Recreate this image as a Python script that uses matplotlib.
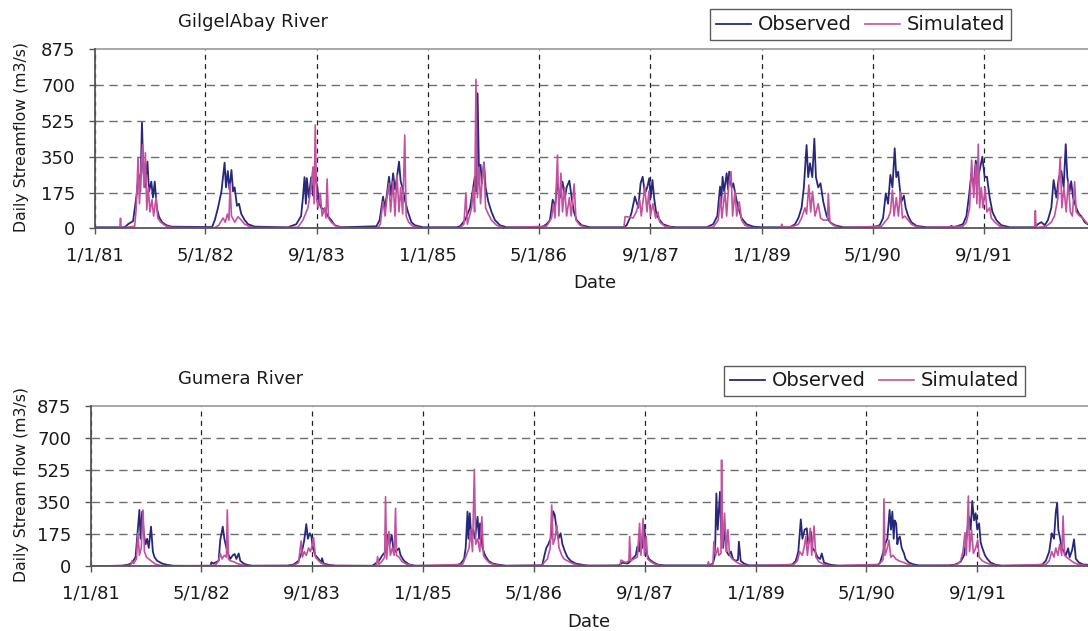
import matplotlib
matplotlib.use('Agg')
import matplotlib.pyplot as plt
import pandas as pd

plt.rcParams['font.family'] = 'DejaVu Sans'

# tick positions / labels shared by both panels
tick_dates = ['1981-01-01', '1982-05-01', '1983-09-01', '1985-01-01', '1986-05-01',
              '1987-09-01', '1989-01-01', '1990-05-01', '1991-09-01']
tick_labels = ['1/1/81', '5/1/82', '9/1/83', '1/1/85', '5/1/86',
               '9/1/87', '1/1/89', '5/1/90', '9/1/91']
y_ticks = [0, 175, 350, 525, 700, 875]

# GilgelAbay river, daily streamflow (m3/s)
gilgel_obs = [
    ('1981-01-01', 5), ('1981-05-12', 5), ('1981-05-27', 20), ('1981-06-18', 35), ('1981-07-02', 150),
    ('1981-07-13', 260), ('1981-07-20', 180), ('1981-07-27', 516), ('1981-08-02', 280), ('1981-08-09', 200),
    ('1981-08-20', 326), ('1981-08-27', 180), ('1981-09-06', 228), ('1981-09-13', 150), ('1981-09-21', 228),
    ('1981-09-30', 100), ('1981-10-10', 55), ('1981-10-23', 30), ('1981-11-11', 15), ('1981-12-03', 8),
    ('1982-05-30', 6), ('1982-06-11', 40), ('1982-06-25', 100), ('1982-07-10', 180), ('1982-07-17', 250),
    ('1982-07-24', 321), ('1982-07-30', 200), ('1982-08-07', 280), ('1982-08-14', 190), ('1982-08-23', 285),
    ('1982-08-30', 180), ('1982-09-06', 200), ('1982-09-16', 110), ('1982-09-25', 120), ('1982-10-05', 70),
    ('1982-10-20', 40), ('1982-11-04', 20), ('1982-12-03', 8),
    ('1983-04-27', 5), ('1983-06-03', 20), ('1983-06-24', 60), ('1983-07-02', 150), ('1983-07-09', 250),
    ('1983-07-15', 120), ('1983-07-19', 245), ('1983-07-28', 150), ('1983-08-07', 250), ('1983-08-15', 160),
    ('1983-08-23', 260), ('1983-09-03', 200), ('1983-09-10', 130), ('1983-09-20', 100), ('1983-10-05', 90),
    ('1983-10-19', 60), ('1983-11-03', 40), ('1983-11-18', 15), ('1983-12-17', 5),
    ('1984-05-19', 10), ('1984-06-02', 40), ('1984-06-17', 155), ('1984-06-24', 100), ('1984-07-02', 150),
    ('1984-07-13', 252), ('1984-07-22', 160), ('1984-07-31', 269), ('1984-08-08', 190), ('1984-08-17', 250),
    ('1984-08-26', 326), ('1984-09-02', 230), ('1984-09-10', 200), ('1984-09-20', 140), ('1984-10-04', 80),
    ('1984-10-19', 30), ('1984-11-03', 15), ('1984-12-09', 5),
    ('1985-05-05', 5), ('1985-05-20', 10), ('1985-06-11', 40), ('1985-07-03', 100), ('1985-07-17', 200),
    ('1985-07-24', 252), ('1985-07-30', 180), ('1985-08-05', 660), ('1985-08-11', 280), ('1985-08-18', 310),
    ('1985-08-24', 220), ('1985-09-02', 322), ('1985-09-09', 200), ('1985-09-21', 130), ('1985-10-05', 80),
    ('1985-10-20', 40), ('1985-11-11', 15), ('1985-12-10', 5),
    ('1986-05-12', 5), ('1986-06-03', 20), ('1986-06-18', 40), ('1986-06-30', 140), ('1986-07-10', 100),
    ('1986-07-20', 220), ('1986-08-01', 150), ('1986-08-12', 228), ('1986-08-23', 150), ('1986-08-30', 200),
    ('1986-09-11', 233), ('1986-09-21', 150), ('1986-10-01', 80), ('1986-10-13', 40), ('1986-11-04', 15),
    ('1986-12-10', 5),
    ('1987-05-05', 5), ('1987-05-20', 15), ('1987-06-03', 50), ('1987-06-11', 80), ('1987-06-25', 155),
    ('1987-07-10', 100), ('1987-07-20', 220), ('1987-07-29', 252), ('1987-08-08', 170), ('1987-08-18', 200),
    ('1987-08-27', 245), ('1987-09-02', 150), ('1987-09-10', 236), ('1987-09-17', 150), ('1987-09-27', 70),
    ('1987-10-12', 40), ('1987-10-26', 20), ('1987-11-25', 8), ('1987-12-24', 5),
    ('1988-05-04', 5), ('1988-06-02', 20), ('1988-06-20', 60), ('1988-07-02', 204), ('1988-07-07', 120),
    ('1988-07-13', 252), ('1988-07-20', 180), ('1988-07-31', 269), ('1988-08-06', 190), ('1988-08-11', 277),
    ('1988-08-22', 200), ('1988-08-29', 220), ('1988-09-10', 150), ('1988-09-20', 100), ('1988-10-04', 50),
    ('1988-10-26', 20), ('1988-11-25', 8), ('1988-12-31', 5),
    ('1989-05-04', 5), ('1989-05-26', 20), ('1989-06-10', 50), ('1989-06-24', 100), ('1989-07-04', 200),
    ('1989-07-16', 407), ('1989-07-23', 250), ('1989-07-31', 318), ('1989-08-10', 250), ('1989-08-19', 438),
    ('1989-08-26', 250), ('1989-09-05', 200), ('1989-09-15', 220), ('1989-09-27', 130), ('1989-10-12', 60),
    ('1989-10-26', 30), ('1989-11-17', 15), ('1989-12-24', 5),
    ('1990-05-03', 5), ('1990-06-01', 15), ('1990-06-16', 50), ('1990-06-28', 171), ('1990-07-08', 120),
    ('1990-07-18', 261), ('1990-07-27', 200), ('1990-08-06', 391), ('1990-08-13', 250), ('1990-08-21', 277),
    ('1990-08-28', 200), ('1990-09-04', 130), ('1990-09-15', 160), ('1990-09-23', 100), ('1990-10-04', 60),
    ('1990-10-18', 30), ('1990-11-09', 12), ('1990-12-23', 5),
    ('1991-04-04', 5), ('1991-04-11', 12), ('1991-04-21', 5), ('1991-06-01', 20), ('1991-06-16', 60),
    ('1991-06-27', 155), ('1991-07-08', 269), ('1991-07-18', 200), ('1991-07-27', 331), ('1991-08-06', 250),
    ('1991-08-16', 300), ('1991-08-25', 350), ('1991-09-04', 250), ('1991-09-14', 252), ('1991-09-26', 150),
    ('1991-10-08', 80), ('1991-10-25', 40), ('1991-11-16', 15), ('1991-12-23', 5),
    ('1992-04-10', 5), ('1992-04-24', 20), ('1992-05-09', 30), ('1992-05-24', 15), ('1992-06-07', 40),
    ('1992-06-22', 100), ('1992-07-02', 236), ('1992-07-14', 150), ('1992-07-25', 250), ('1992-08-05', 280),
    ('1992-08-15', 200), ('1992-08-24', 411), ('1992-08-31', 250), ('1992-09-10', 180), ('1992-09-17', 230),
    ('1992-09-25', 150), ('1992-10-09', 100), ('1992-10-21', 70), ('1992-10-31', 60), ('1992-11-15', 30),
    ('1992-11-28', 20), ('1992-12-31', 15),
]

gilgel_sim = [
    ('1981-01-01', 1), ('1981-04-21', 1), ('1981-04-24', 49), ('1981-04-27', 1), ('1981-06-25', 10),
    ('1981-07-02', 100), ('1981-07-10', 347), ('1981-07-16', 120), ('1981-07-23', 300), ('1981-07-30', 410),
    ('1981-08-05', 200), ('1981-08-11', 370), ('1981-08-17', 90), ('1981-08-24', 200), ('1981-08-31', 80),
    ('1981-09-09', 140), ('1981-09-16', 60), ('1981-09-27', 150), ('1981-10-04', 50), ('1981-10-17', 30),
    ('1981-11-07', 12), ('1981-12-03', 4),
    ('1982-06-11', 3), ('1982-06-28', 15), ('1982-07-17', 50), ('1982-07-27', 30), ('1982-08-05', 70),
    ('1982-08-12', 40), ('1982-08-17', 217), ('1982-08-23', 60), ('1982-09-06', 30), ('1982-09-21', 57),
    ('1982-10-05', 40), ('1982-10-20', 20), ('1982-11-11', 8), ('1982-12-03', 3),
    ('1983-06-10', 5), ('1983-07-02', 40), ('1983-07-24', 100), ('1983-08-04', 180), ('1983-08-15', 300),
    ('1983-08-20', 120), ('1983-08-25', 505), ('1983-08-31', 140), ('1983-09-07', 100), ('1983-09-16', 171),
    ('1983-09-24', 60), ('1983-10-05', 100), ('1983-10-11', 50), ('1983-10-16', 241), ('1983-10-22', 50),
    ('1983-11-03', 30), ('1983-11-25', 10), ('1983-12-24', 3),
    ('1984-05-26', 3), ('1984-06-05', 20), ('1984-06-11', 80), ('1984-06-17', 130), ('1984-06-26', 60),
    ('1984-07-04', 150), ('1984-07-13', 220), ('1984-07-20', 80), ('1984-07-31', 230), ('1984-08-08', 60),
    ('1984-08-17', 260), ('1984-08-26', 80), ('1984-09-02', 200), ('1984-09-11', 70), ('1984-09-20', 456),
    ('1984-09-26', 60), ('1984-10-07', 30), ('1984-10-26', 10), ('1984-11-25', 3),
    ('1985-05-20', 3), ('1985-06-06', 20), ('1985-06-15', 174), ('1985-06-21', 20), ('1985-07-10', 100),
    ('1985-07-17', 200), ('1985-07-23', 80), ('1985-07-29', 728), ('1985-08-04', 150), ('1985-08-11', 300),
    ('1985-08-18', 120), ('1985-08-26', 250), ('1985-09-02', 322), ('1985-09-09', 100), ('1985-09-21', 70),
    ('1985-10-05', 40), ('1985-10-27', 15), ('1985-11-26', 3),
    ('1986-06-03', 10), ('1986-06-25', 50), ('1986-07-03', 120), ('1986-07-10', 50), ('1986-07-21', 358),
    ('1986-07-27', 60), ('1986-08-05', 269), ('1986-08-12', 80), ('1986-08-21', 200), ('1986-08-30', 60),
    ('1986-09-11', 150), ('1986-09-19', 60), ('1986-10-02', 217), ('1986-10-10', 40), ('1986-10-27', 15),
    ('1986-11-26', 3),
    ('1987-05-08', 3), ('1987-05-13', 57), ('1987-06-02', 55), ('1987-06-17', 50), ('1987-07-01', 80),
    ('1987-07-16', 138), ('1987-07-23', 60), ('1987-08-07', 203), ('1987-08-17', 80), ('1987-08-25', 180),
    ('1987-09-01', 60), ('1987-09-12', 120), ('1987-09-24', 50), ('1987-10-04', 80), ('1987-10-12', 30),
    ('1987-11-03', 10), ('1987-12-09', 3),
    ('1988-06-02', 5), ('1988-06-24', 40), ('1988-07-04', 155), ('1988-07-10', 50), ('1988-07-23', 180),
    ('1988-07-31', 60), ('1988-08-08', 200), ('1988-08-19', 277), ('1988-08-26', 60), ('1988-09-05', 180),
    ('1988-09-13', 60), ('1988-09-24', 130), ('1988-10-04', 40), ('1988-10-19', 15), ('1988-11-17', 3),
    ('1989-03-26', 2), ('1989-03-29', 20), ('1989-04-01', 2), ('1989-05-19', 10), ('1989-06-10', 20),
    ('1989-06-24', 50), ('1989-07-09', 100), ('1989-07-16', 70), ('1989-07-26', 212), ('1989-08-03', 80),
    ('1989-08-11', 180), ('1989-08-22', 60), ('1989-09-05', 120), ('1989-09-15', 50), ('1989-09-27', 40),
    ('1989-10-16', 40), ('1989-10-19', 171), ('1989-10-26', 30), ('1989-11-10', 15), ('1989-12-09', 3),
    ('1990-06-09', 10), ('1990-06-23', 30), ('1990-07-08', 50), ('1990-07-18', 80), ('1990-07-27', 187),
    ('1990-08-03', 60), ('1990-08-13', 150), ('1990-08-22', 60), ('1990-08-31', 179), ('1990-09-09', 50),
    ('1990-09-19', 60), ('1990-10-04', 40), ('1990-10-18', 20), ('1990-11-09', 8), ('1990-12-08', 3),
    ('1991-06-01', 10), ('1991-06-16', 30), ('1991-06-30', 100), ('1991-07-09', 334), ('1991-07-18', 150),
    ('1991-07-27', 314), ('1991-08-01', 120), ('1991-08-07', 411), ('1991-08-13', 100), ('1991-08-20', 200),
    ('1991-08-28', 100), ('1991-09-06', 200), ('1991-09-14', 80), ('1991-09-26', 100), ('1991-10-03', 50),
    ('1991-10-18', 30), ('1991-11-09', 10), ('1991-12-08', 3),
    ('1992-04-10', 2), ('1992-04-13', 86), ('1992-04-16', 3), ('1992-05-31', 10), ('1992-06-22', 30),
    ('1992-07-06', 60), ('1992-07-21', 150), ('1992-07-31', 347), ('1992-08-07', 100), ('1992-08-16', 200),
    ('1992-08-26', 80), ('1992-09-04', 230), ('1992-09-13', 80), ('1992-09-22', 60), ('1992-10-02', 228),
    ('1992-10-09', 80), ('1992-10-24', 60), ('1992-11-07', 50), ('1992-11-25', 25), ('1992-12-31', 15),
]

# Gumera river
gumera_obs = [
    ('1981-01-01', 1), ('1981-05-19', 3), ('1981-06-17', 10), ('1981-07-02', 20), ('1981-07-17', 50),
    ('1981-07-27', 198), ('1981-08-03', 307), ('1981-08-08', 150), ('1981-08-15', 298), ('1981-08-22', 180),
    ('1981-08-30', 120), ('1981-09-06', 150), ('1981-09-13', 100), ('1981-09-23', 216), ('1981-10-01', 80),
    ('1981-10-08', 50), ('1981-10-20', 30), ('1981-11-11', 15), ('1981-12-03', 8), ('1981-12-31', 3),
    ('1982-06-12', 2), ('1982-06-15', 22), ('1982-06-25', 15), ('1982-07-17', 30), ('1982-07-24', 143),
    ('1982-08-04', 216), ('1982-08-11', 150), ('1982-08-20', 100), ('1982-08-30', 60), ('1982-09-06', 40),
    ('1982-09-17', 60), ('1982-09-25', 67), ('1982-10-03', 40), ('1982-10-13', 70), ('1982-10-20', 30),
    ('1982-11-04', 15), ('1982-11-19', 8), ('1982-12-11', 3),
    ('1983-05-13', 3), ('1983-06-12', 10), ('1983-07-03', 30), ('1983-07-18', 80), ('1983-07-28', 143),
    ('1983-08-06', 230), ('1983-08-13', 150), ('1983-08-21', 180), ('1983-08-28', 165), ('1983-09-04', 100),
    ('1983-09-15', 60), ('1983-09-29', 40), ('1983-10-10', 20), ('1983-10-14', 44), ('1983-10-21', 15),
    ('1983-11-12', 8), ('1983-12-12', 3),
    ('1984-05-22', 3), ('1984-06-05', 15), ('1984-06-20', 30), ('1984-07-05', 60), ('1984-07-19', 80),
    ('1984-07-29', 171), ('1984-08-06', 120), ('1984-08-15', 171), ('1984-08-22', 100), ('1984-09-01', 80),
    ('1984-09-16', 98), ('1984-09-23', 60), ('1984-10-08', 30), ('1984-10-30', 10), ('1984-11-28', 3),
    ('1985-05-23', 3), ('1985-06-14', 15), ('1985-06-29', 40), ('1985-07-06', 100), ('1985-07-14', 298),
    ('1985-07-18', 150), ('1985-07-24', 289), ('1985-07-31', 150), ('1985-08-08', 200), ('1985-08-16', 150),
    ('1985-08-27', 270), ('1985-09-03', 150), ('1985-09-07', 234), ('1985-09-18', 100), ('1985-09-29', 60),
    ('1985-10-14', 30), ('1985-11-01', 15), ('1985-11-30', 8), ('1985-12-31', 3),
    ('1986-06-01', 5), ('1986-06-08', 10), ('1986-06-17', 60), ('1986-06-25', 100), ('1986-07-04', 120),
    ('1986-07-14', 150), ('1986-07-25', 300), ('1986-08-01', 280), ('1986-08-10', 200), ('1986-08-17', 150),
    ('1986-08-27', 180), ('1986-09-04', 120), ('1986-09-15', 80), ('1986-09-26', 50), ('1986-10-10', 30),
    ('1986-11-01', 15), ('1986-12-01', 8), ('1986-12-30', 3),
    ('1987-05-10', 5), ('1987-05-25', 20), ('1987-06-16', 15), ('1987-06-23', 20), ('1987-07-08', 40),
    ('1987-07-23', 60), ('1987-07-30', 107), ('1987-08-06', 80), ('1987-08-13', 162), ('1987-08-21', 100),
    ('1987-08-30', 225), ('1987-09-04', 100), ('1987-09-12', 60), ('1987-09-19', 40), ('1987-10-04', 25),
    ('1987-10-26', 10), ('1987-11-24', 5),
    ('1988-06-08', 5), ('1988-06-26', 15), ('1988-07-05', 60), ('1988-07-11', 397), ('1988-07-17', 200),
    ('1988-07-27', 406), ('1988-08-02', 150), ('1988-08-10', 100), ('1988-08-18', 216), ('1988-08-25', 80),
    ('1988-09-04', 60), ('1988-09-13', 80), ('1988-09-22', 40), ('1988-10-04', 30), ('1988-10-14', 35),
    ('1988-10-18', 134), ('1988-10-26', 30), ('1988-11-09', 15), ('1988-12-01', 5),
    ('1989-05-12', 5), ('1989-06-10', 10), ('1989-06-25', 30), ('1989-07-06', 80), ('1989-07-17', 256),
    ('1989-07-24', 150), ('1989-08-03', 200), ('1989-08-12', 207), ('1989-08-19', 120), ('1989-08-30', 189),
    ('1989-09-06', 100), ('1989-09-18', 80), ('1989-09-28', 50), ('1989-10-10', 40), ('1989-10-17', 70),
    ('1989-10-27', 20), ('1989-11-25', 8), ('1989-12-31', 3),
    ('1990-06-18', 5), ('1990-06-30', 20), ('1990-07-10', 60), ('1990-07-22', 120), ('1990-08-01', 150),
    ('1990-08-11', 307), ('1990-08-17', 200), ('1990-08-23', 298), ('1990-08-29', 150), ('1990-09-02', 250),
    ('1990-09-09', 234), ('1990-09-14', 120), ('1990-09-18', 150), ('1990-09-25', 162), ('1990-10-03', 100),
    ('1990-10-13', 71), ('1990-10-20', 40), ('1990-11-04', 20), ('1990-11-26', 10), ('1990-12-18', 5),
    ('1991-04-29', 5), ('1991-05-28', 10), ('1991-06-19', 25), ('1991-07-04', 60), ('1991-07-14', 150),
    ('1991-07-26', 270), ('1991-08-02', 200), ('1991-08-09', 356), ('1991-08-17', 250), ('1991-08-24', 289),
    ('1991-08-31', 200), ('1991-09-08', 234), ('1991-09-15', 130), ('1991-09-22', 100), ('1991-10-04', 60),
    ('1991-10-14', 40), ('1991-10-29', 20), ('1991-11-20', 8), ('1991-12-19', 3),
    ('1992-05-14', 5), ('1992-06-12', 10), ('1992-06-27', 30), ('1992-07-12', 80), ('1992-07-23', 180),
    ('1992-08-02', 150), ('1992-08-10', 298), ('1992-08-16', 343), ('1992-08-21', 200), ('1992-08-29', 150),
    ('1992-09-05', 100), ('1992-09-15', 80), ('1992-09-23', 60), ('1992-10-03', 98), ('1992-10-10', 50),
    ('1992-10-21', 90), ('1992-10-29', 147), ('1992-11-06', 40), ('1992-11-20', 20), ('1992-12-08', 10),
    ('1992-12-31', 8),
]

gumera_sim = [
    ('1981-01-01', 0), ('1981-06-25', 5), ('1981-07-02', 31), ('1981-07-09', 15), ('1981-07-21', 40),
    ('1981-07-27', 180), ('1981-08-03', 60), ('1981-08-11', 100), ('1981-08-19', 307), ('1981-08-25', 80),
    ('1981-09-03', 50), ('1981-09-13', 40), ('1981-09-28', 25), ('1981-10-12', 12), ('1981-11-03', 5),
    ('1981-12-31', 1),
    ('1982-07-02', 5), ('1982-07-17', 30), ('1982-07-24', 70), ('1982-08-01', 40), ('1982-08-11', 60),
    ('1982-08-20', 50), ('1982-08-24', 307), ('1982-08-29', 40), ('1982-09-06', 30), ('1982-09-21', 25),
    ('1982-10-06', 15), ('1982-10-28', 8), ('1982-11-19', 3),
    ('1983-06-12', 5), ('1983-07-03', 20), ('1983-07-14', 138), ('1983-07-20', 50), ('1983-07-28', 80),
    ('1983-08-06', 60), ('1983-08-16', 100), ('1983-08-24', 80), ('1983-08-31', 110), ('1983-09-07', 156),
    ('1983-09-15', 50), ('1983-09-29', 30), ('1983-10-14', 15), ('1983-11-05', 5),
    ('1984-06-03', 2), ('1984-06-10', 10), ('1984-06-14', 53), ('1984-06-20', 10), ('1984-07-05', 30),
    ('1984-07-15', 50), ('1984-07-19', 379), ('1984-07-24', 40), ('1984-08-03', 189), ('1984-08-09', 60),
    ('1984-08-18', 100), ('1984-08-26', 60), ('1984-09-01', 316), ('1984-09-05', 60), ('1984-09-16', 50),
    ('1984-09-30', 25), ('1984-10-22', 10), ('1984-11-21', 3),
    ('1985-06-22', 10), ('1985-07-06', 50), ('1985-07-21', 100), ('1985-07-28', 200), ('1985-08-05', 80),
    ('1985-08-13', 528), ('1985-08-19', 120), ('1985-08-28', 150), ('1985-09-06', 80), ('1985-09-15', 270),
    ('1985-09-22', 60), ('1985-10-02', 40), ('1985-10-17', 20), ('1985-11-08', 8), ('1985-12-14', 3),
    ('1986-06-08', 5), ('1986-06-15', 20), ('1986-06-30', 40), ('1986-07-12', 100), ('1986-07-19', 334),
    ('1986-07-25', 120), ('1986-08-02', 150), ('1986-08-10', 225), ('1986-08-20', 100), ('1986-09-01', 60),
    ('1986-09-11', 40), ('1986-09-26', 30), ('1986-10-18', 15), ('1986-11-16', 5),
    ('1987-05-15', 3), ('1987-05-19', 34), ('1987-06-09', 20), ('1987-06-23', 30), ('1987-06-26', 162),
    ('1987-07-01', 30), ('1987-07-15', 40), ('1987-07-30', 50), ('1987-08-09', 234), ('1987-08-15', 60),
    ('1987-08-24', 261), ('1987-08-30', 60), ('1987-09-07', 162), ('1987-09-13', 40), ('1987-09-27', 25),
    ('1987-10-18', 10), ('1987-11-17', 3),
    ('1988-06-01', 3), ('1988-06-06', 25), ('1988-06-11', 3), ('1988-06-26', 10), ('1988-06-30', 134),
    ('1988-07-08', 60), ('1988-07-17', 100), ('1988-07-22', 60), ('1988-07-31', 70), ('1988-08-03', 579),
    ('1988-08-07', 100), ('1988-08-16', 289), ('1988-08-24', 80), ('1988-08-31', 200), ('1988-09-07', 60),
    ('1988-09-19', 40), ('1988-10-11', 20), ('1988-11-02', 8), ('1988-12-01', 3),
    ('1989-06-17', 10), ('1989-07-02', 30), ('1989-07-12', 80), ('1989-07-24', 60), ('1989-07-31', 100),
    ('1989-08-08', 162), ('1989-08-15', 60), ('1989-08-27', 207), ('1989-09-03', 60), ('1989-09-13', 220),
    ('1989-09-21', 50), ('1989-10-05', 25), ('1989-10-27', 10), ('1989-11-25', 3),
    ('1990-06-25', 10), ('1990-07-10', 30), ('1990-07-14', 40), ('1990-07-17', 367), ('1990-07-22', 60),
    ('1990-08-01', 100), ('1990-08-08', 143), ('1990-08-16', 50), ('1990-08-26', 60), ('1990-09-07', 40),
    ('1990-09-21', 30), ('1990-10-13', 20), ('1990-11-04', 8), ('1990-12-03', 3),
    ('1991-05-13', 5), ('1991-06-04', 10), ('1991-06-19', 30), ('1991-06-29', 80), ('1991-07-08', 183),
    ('1991-07-14', 60), ('1991-07-23', 383), ('1991-07-28', 80), ('1991-08-06', 200), ('1991-08-14', 70),
    ('1991-08-24', 100), ('1991-09-02', 143), ('1991-09-08', 50), ('1991-09-22', 30), ('1991-10-07', 20),
    ('1991-10-29', 10), ('1991-11-27', 3),
    ('1992-06-27', 10), ('1992-07-12', 30), ('1992-07-23', 80), ('1992-08-02', 50), ('1992-08-10', 100),
    ('1992-08-19', 60), ('1992-08-27', 120), ('1992-09-05', 60), ('1992-09-11', 274), ('1992-09-17', 60),
    ('1992-09-26', 50), ('1992-10-07', 40), ('1992-10-22', 25), ('1992-11-06', 15), ('1992-11-20', 10),
    ('1992-12-20', 5), ('1992-12-31', 4),
]

OBS_COLOR = '#28287a'
SIM_COLOR = '#c2529f'
W, H = 1088, 631


def unpack(pairs):
    return pd.to_datetime([p[0] for p in pairs]), [p[1] for p in pairs]


def draw_panel(rect, obs, sim):
    ax = fig.add_axes(rect)
    d, v = unpack(obs)
    ax.plot(d, v, color=OBS_COLOR, lw=1.3, zorder=3)
    d, v = unpack(sim)
    ax.plot(d, v, color=SIM_COLOR, lw=1.2, zorder=4)

    ax.set_xlim(pd.Timestamp('1981-01-01'), pd.Timestamp('1993-01-01'))
    ax.set_ylim(0, 875)
    ax.set_yticks(y_ticks)
    ax.set_xticks(pd.to_datetime(tick_dates))
    ax.set_xticklabels(tick_labels)

    # horizontal dashed grid (not at 0 / 875), vertical dashed grid at date ticks
    for yv in y_ticks[1:-1]:
        ax.axhline(yv, color='#6e6e6e', lw=1.0, linestyle=(0, (6, 4)), zorder=1)
    ax.xaxis.grid(True, color='#222222', lw=0.9, linestyle=(0, (4, 3.5)), zorder=1)
    ax.set_axisbelow(True)

    for s in ['left', 'bottom']:
        ax.spines[s].set_color('#555555')
        ax.spines[s].set_linewidth(1.3)
        ax.spines[s].set_zorder(5)
    ax.spines['top'].set_color('#a0a0a0')
    ax.spines['top'].set_linewidth(1.3)
    ax.spines['right'].set_visible(False)

    ax.tick_params(axis='both', direction='out', length=4, width=1, color='#555555',
                   labelsize=13, labelcolor='#1a1a1a')
    ax.tick_params(axis='x', pad=9)
    ax.tick_params(axis='y', pad=10)
    return ax


fig = plt.figure(figsize=(W / 100, H / 100), dpi=100)

ax1 = draw_panel([94.7 / W, 1 - 228.3 / H, (1095.4 - 94.7) / W, 179.0 / H], gilgel_obs, gilgel_sim)
ax2 = draw_panel([90.7 / W, 1 - 566.3 / H, (1088.6 - 90.7) / W, 160.6 / H], gumera_obs, gumera_sim)

# titles, axis titles
fig.text(178 / W, 1 - 22 / H, 'GilgelAbay River', ha='left', va='center', fontsize=13, color='#1a1a1a')
fig.text(178 / W, 1 - 379 / H, 'Gumera River', ha='left', va='center', fontsize=13, color='#1a1a1a')
fig.text(21.5 / W, 1 - 137.5 / H, 'Daily Streamflow (m3/s)', rotation=90, ha='center', va='center',
         fontsize=11.3, color='#1a1a1a')
fig.text(22 / W, 1 - 484 / H, 'Daily Stream flow (m3/s)', rotation=90, ha='center', va='center',
         fontsize=11.3, color='#1a1a1a')
fig.text(595 / W, 1 - 283 / H, 'Date', ha='center', va='center', fontsize=13, color='#1a1a1a')
fig.text(589 / W, 1 - 622 / H, 'Date', ha='center', va='center', fontsize=13, color='#1a1a1a')

# legends
for ax, (lx, ly) in [(ax1, (710, 9.5)), (ax2, (724, 365.5))]:
    leg = fig.legend(ax.get_lines(), ['Observed', 'Simulated'], loc='upper left',
                     bbox_to_anchor=(lx / W, 1 - ly / H), ncol=2, fontsize=14,
                     frameon=True, fancybox=False, borderaxespad=0, borderpad=0.3,
                     handlelength=1.8, handletextpad=0.35, columnspacing=0.7)
    leg.get_frame().set_edgecolor('#333333')
    leg.get_frame().set_linewidth(1.0)
    for t in leg.get_texts():
        t.set_color('#1a1a1a')

fig.savefig('out.png', dpi=100)
